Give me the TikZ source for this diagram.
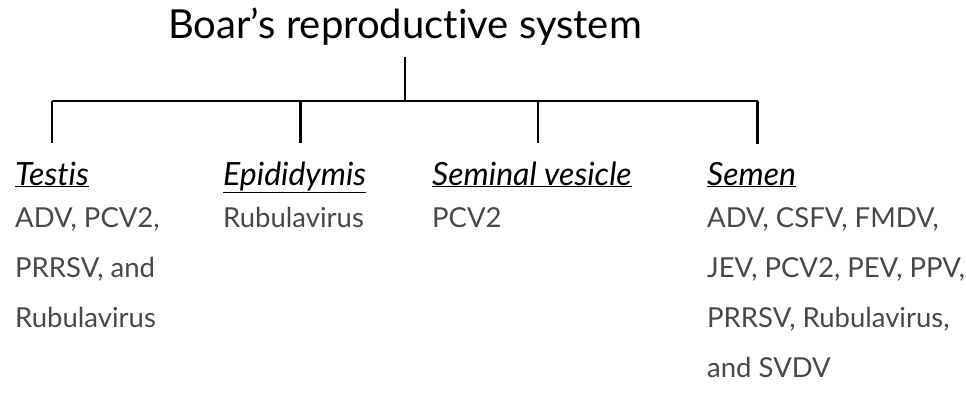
\documentclass[tikz,border=0pt]{standalone}
\usepackage{fontspec}
\setmainfont{Lato}[Ligatures=NoCommon]
\usetikzlibrary{positioning}
\definecolor{listgray}{HTML}{484848}
\tikzset{heading/.style = {font=\fontsize{40}{46}\selectfont, anchor=base, inner sep=0pt},
         organ/.style = {font=\fontsize{32}{38}\selectfont\itshape, anchor=base west, inner sep=0pt},
         virus/.style = {font=\fontsize{27.5}{50}\selectfont, text=listgray, anchor=north west, inner sep=0pt, align=left},
         branch/.style = {line width=2.5pt}}

\begin{document}
\begin{tikzpicture}[x=1pt,y=-1pt]
        \useasboundingbox (0,0) rectangle (966,392);

        \node[heading] (boar) at (405,38) {Boar's reproductive system};

        \node[organ] (testis) at (15,185) {\underline{Testis}};
        \node[organ] (epid) at (223,185) {\underline{Epididymis}};
        \node[organ] (vesicle) at (432,185) {\underline{Seminal vesicle}};
        \node[organ] (semen) at (707,185) {\underline{Semen}};

        \node[virus] (testisv) at (15,207) {ADV, PCV2,\\PRRSV, and\\Rubulavirus};
        \node[virus] (epidv) at (223,207) {Rubulavirus};
        \node[virus] (vesiclev) at (432,207) {PCV2};
        \node[virus] (semenv) at (707,207) {ADV, CSFV, FMDV,\\JEV, PCV2, PEV, PPV,\\PRRSV, Rubulavirus,\\and SVDV};

        % tree
        \coordinate (hub) at (405,101);
        \coordinate (epidtop) at ([xshift=6pt]epid.north);
        \coordinate (vesicletop) at ([xshift=6pt]vesicle.north);
        \coordinate (sementop) at ([xshift=6pt]semen.north);
        \draw[branch] ([yshift=-12pt]boar.south) -- (hub);
        \draw[branch] (hub -| testis.north) -- (hub -| sementop);
        \draw[branch] (hub -| testis.north) -- ([yshift=18pt]testis.north);
        \draw[branch] (hub -| epidtop) -- ([yshift=18pt]epidtop);
        \draw[branch] (hub -| vesicletop) -- ([yshift=18pt]vesicletop);
        \draw[branch] (hub -| sementop) -- ([yshift=18pt]sementop);
\end{tikzpicture}
\end{document}
